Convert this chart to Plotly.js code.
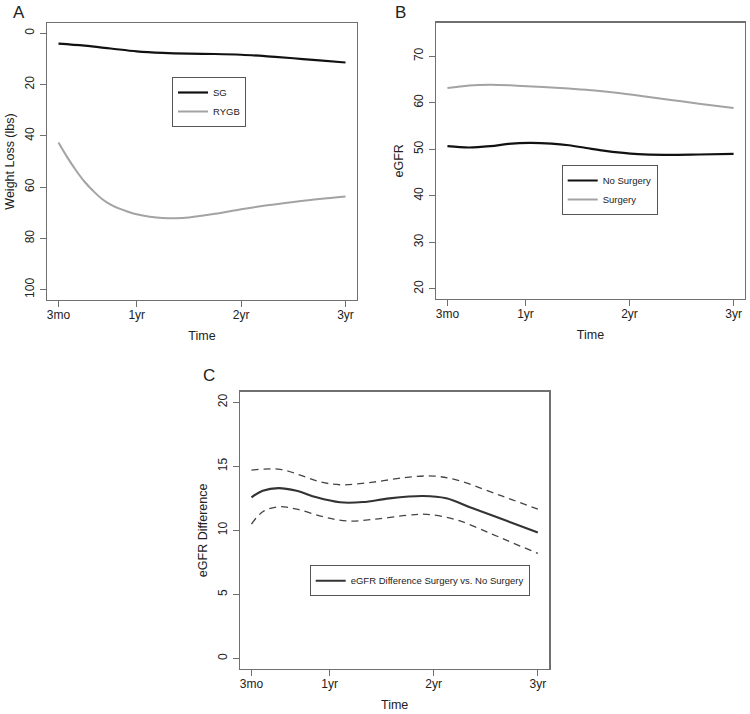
<!DOCTYPE html>
<html>
<head>
<meta charset="utf-8">
<script src="https://cdn.plot.ly/plotly-3.0.1.min.js"></script>
<style>html,body{margin:0;padding:0;background:#fff;overflow:hidden;}#chart{width:750px;height:714px;}</style>
</head>
<body>
<div id="chart"></div>
<script>
// ---- Data (months since surgery) ----
const tickMonths = [3, 12, 24, 36];
const tickLabels = ['3mo', '1yr', '2yr', '3yr'];

// Panel A: weight loss (lbs)
const sgMonths = [3, 6, 9, 12, 15, 18, 21, 24, 27, 30, 33, 36];
const sgLoss = [4.05, 4.85, 5.95, 7.05, 7.65, 7.95, 8.08, 8.38, 9.0, 9.75, 10.6, 11.4];
const rygbMonths = [3, 4, 5, 6, 7, 8, 9, 10, 11, 12, 13.5, 15, 16.5, 18, 21, 24, 27, 30, 33, 36];
const rygbLoss = [42.6, 48.3, 53.4, 57.9, 61.5, 64.6, 66.8, 68.4, 69.6, 70.6, 71.5, 72.0, 72.1, 71.8, 70.4, 68.6, 67.1, 65.8, 64.6, 63.6];

// Panel B: eGFR
const noSurgMonths = [3, 5.5, 8, 10, 12.5, 15, 17, 19, 21, 23, 25, 28, 32, 36];
const noSurgEGFR = [50.65, 50.37, 50.67, 51.13, 51.36, 51.2, 50.85, 50.27, 49.7, 49.25, 48.94, 48.8, 48.87, 49.0];
const surgMonths = [3, 5.5, 8, 11, 14, 17, 20, 23, 26, 29, 32, 36];
const surgEGFR = [63.14, 63.72, 63.87, 63.67, 63.4, 63.05, 62.65, 62.05, 61.3, 60.55, 59.8, 58.86];

// Panel C: eGFR difference with bounds
const diffMonths = [3, 4.3, 6.1, 8.2, 10.5, 13.2, 15.85, 18.9, 22.8, 25.45, 28.5, 32.4, 36];
const diffMean = [12.58, 13.09, 13.30, 13.09, 12.58, 12.19, 12.21, 12.50, 12.68, 12.50, 11.72, 10.75, 9.84];
const upperMonths = [3, 6.3, 8.6, 10.9, 13.2, 17.05, 20.9, 24, 26.7, 30.5, 33, 36];
const upperDiff = [14.71, 14.77, 14.32, 13.80, 13.56, 13.77, 14.14, 14.24, 13.93, 13.02, 12.4, 11.65];
const lowerMonths = [3, 4.3, 6.1, 8.2, 11.3, 14, 17.05, 20.9, 23.2, 26.7, 30.5, 33, 36];
const lowerDiff = [10.49, 11.45, 11.84, 11.66, 11.06, 10.73, 10.86, 11.17, 11.25, 10.80, 9.77, 9.05, 8.2];

// ---- Styling ----
const FONT = 'Liberation Sans, Arial, Helvetica, sans-serif';
const TXT = '#222';
const FRAME = '#707070';
const W = 750, H = 714;
const px = v => v / W;
const py = v => 1 - v / H;

function xAxis(left, right) {
  return {
    domain: [px(left), px(right)], range: [1.68, 37.32],
    tickmode: 'array', tickvals: tickMonths, ticktext: tickLabels,
    ticks: 'outside', ticklen: 6, tickcolor: FRAME, tickwidth: 1,
    ticklabelstandoff: -3,
    showline: true, mirror: true, linecolor: FRAME, linewidth: 1.3,
    showgrid: false, zeroline: false,
    tickfont: {family: FONT, size: 12, color: TXT},
    title: {text: 'Time', font: {family: FONT, size: 12.5, color: TXT}, standoff: 10},
    automargin: false
  };
}
function yAxis(top, bottom, range, tickvals, title) {
  return {
    domain: [py(bottom), py(top)], range: range,
    tickmode: 'array', tickvals: tickvals, ticktext: tickvals.map(String),
    tickangle: -90,
    ticks: 'outside', ticklen: 6, tickcolor: FRAME, tickwidth: 1,
    ticklabelstandoff: 1,
    showline: true, mirror: true, linecolor: FRAME, linewidth: 1.3,
    showgrid: false, zeroline: false,
    tickfont: {family: FONT, size: 12, color: TXT},
    title: {text: title, font: {family: FONT, size: 12.5, color: TXT}, standoff: 5},
    automargin: false
  };
}

const spl = {shape: 'spline', smoothing: 1};
const traces = [
  {x: sgMonths, y: sgLoss, name: 'SG', mode: 'lines', xaxis: 'x', yaxis: 'y', legend: 'legend',
   line: Object.assign({color: '#111', width: 2.2}, spl)},
  {x: rygbMonths, y: rygbLoss, name: 'RYGB', mode: 'lines', xaxis: 'x', yaxis: 'y', legend: 'legend',
   line: Object.assign({color: '#a3a3a3', width: 2.0}, spl)},
  {x: noSurgMonths, y: noSurgEGFR, name: 'No Surgery', mode: 'lines', xaxis: 'x2', yaxis: 'y2', legend: 'legend2',
   line: Object.assign({color: '#111', width: 2.2}, spl)},
  {x: surgMonths, y: surgEGFR, name: 'Surgery', mode: 'lines', xaxis: 'x2', yaxis: 'y2', legend: 'legend2',
   line: Object.assign({color: '#a3a3a3', width: 2.0}, spl)},
  {x: upperMonths, y: upperDiff, name: 'Upper', mode: 'lines', xaxis: 'x3', yaxis: 'y3', showlegend: false,
   line: Object.assign({color: '#444', width: 1.3, dash: '7px,5px'}, spl)},
  {x: lowerMonths, y: lowerDiff, name: 'Lower', mode: 'lines', xaxis: 'x3', yaxis: 'y3', showlegend: false,
   line: Object.assign({color: '#444', width: 1.3, dash: '7px,5px'}, spl)},
  {x: diffMonths, y: diffMean, name: 'eGFR Difference Surgery vs. No Surgery', mode: 'lines', xaxis: 'x3', yaxis: 'y3', legend: 'legend3',
   line: Object.assign({color: '#333', width: 2.1}, spl)}
];

function legendAt(cx, cy) {
  return {x: px(cx), y: py(cy), xanchor: 'center', yanchor: 'middle',
    bgcolor: '#fff', bordercolor: '#555', borderwidth: 1,
    font: {family: FONT, size: 9.5, color: TXT}, tracegroupgap: 0};
}

const layout = {
  width: W, height: H,
  margin: {l: 0, r: 0, t: 0, b: 0},
  paper_bgcolor: '#fff', plot_bgcolor: '#fff',
  showlegend: true,
  xaxis: Object.assign(xAxis(47, 357), {anchor: 'y'}),
  yaxis: Object.assign(yAxis(23, 300, [104, -4], [0, 20, 40, 60, 80, 100], 'Weight Loss (lbs)'), {anchor: 'x'}),
  xaxis2: Object.assign(xAxis(436, 745), {anchor: 'y2'}),
  yaxis2: Object.assign(yAxis(22.7, 299, [17.8, 77.2], [20, 30, 40, 50, 60, 70], 'eGFR'), {anchor: 'x2'}),
  xaxis3: Object.assign(xAxis(240, 549.3), {anchor: 'y3'}),
  yaxis3: Object.assign(yAxis(391.7, 669, [-0.83, 20.83], [0, 5, 10, 15, 20], 'eGFR Difference'), {anchor: 'x3'}),
  legend: legendAt(209, 102),
  legend2: legendAt(609.7, 190),
  legend3: legendAt(419.7, 580.7),
  annotations: [
    {text: 'A', x: px(19), y: py(12.5), xref: 'paper', yref: 'paper', showarrow: false, xanchor: 'center', yanchor: 'middle', font: {family: FONT, size: 17, color: TXT}},
    {text: 'B', x: px(400), y: py(12), xref: 'paper', yref: 'paper', showarrow: false, xanchor: 'center', yanchor: 'middle', font: {family: FONT, size: 17, color: TXT}},
    {text: 'C', x: px(209), y: py(375.5), xref: 'paper', yref: 'paper', showarrow: false, xanchor: 'center', yanchor: 'middle', font: {family: FONT, size: 17, color: TXT}}
  ]
};

Plotly.newPlot('chart', traces, layout, {displayModeBar: false, staticPlot: true});
</script>
</body>
</html>
